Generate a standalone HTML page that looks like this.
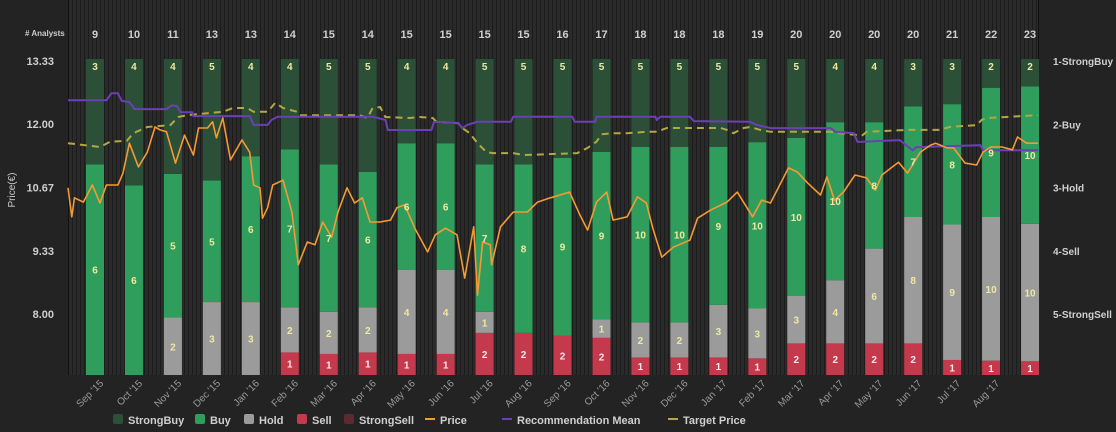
<!DOCTYPE html>
<html><head><meta charset="utf-8"><style>
html,body{margin:0;padding:0;background:#232323;}
svg{display:block;font-family:"Liberation Sans",sans-serif;}
</style></head><body>
<svg id="chart" width="1116" height="432" viewBox="0 0 1116 432" xmlns="http://www.w3.org/2000/svg">
<defs>
<pattern id="stripes" width="4" height="10" patternUnits="userSpaceOnUse">
<rect width="4" height="10" fill="#2a2a2a"/><rect width="1" height="10" fill="#1c1c1c"/>
</pattern>
</defs>
<rect x="0" y="0" width="1116" height="432" fill="#232323"/>
<rect x="68" y="0" width="970" height="375" fill="url(#stripes)"/>
<line x1="68.5" y1="0" x2="68.5" y2="375" stroke="#111"/>
<line x1="1038.5" y1="0" x2="1038.5" y2="375" stroke="#111"/>
<g id="bars"></g>
<g id="lines"></g>
<g id="labels"></g>
<text x="25" y="36" font-size="8" font-weight="bold" fill="#ccc"># Analysts</text>
<text transform="translate(15,190) rotate(-90)" text-anchor="middle" font-size="10" fill="#ccc">Price(€)</text>
<g id="legend"></g>
</svg>
<script>
const months = ["Sep '15","Oct '15","Nov '15","Dec '15","Jan '16","Feb '16","Mar '16","Apr '16","May '16","Jun '16","Jul '16","Aug '16","Sep '16","Oct '16","Nov '16","Dec '16","Jan '17","Feb '17","Mar '17","Apr '17","May '17","Jun '17","Jul '17","Aug '17",""];
const strongBuy = [3,4,4,5,4,4,5,5,4,4,5,5,5,5,5,5,5,5,5,4,4,3,3,2,2];
const buy       = [6,6,5,5,6,7,7,6,6,6,7,8,9,9,10,10,9,10,10,10,8,7,8,9,10];
const hold      = [0,0,2,3,3,2,2,2,4,4,1,0,0,1,2,2,3,3,3,4,6,8,9,10,10];
const sell      = [0,0,0,0,0,1,1,1,1,1,2,2,2,2,1,1,1,1,2,2,2,2,1,1,1];
const strongSell= [0,0,0,0,0,0,0,0,0,0,0,0,0,0,0,0,0,0,0,0,0,0,0,0,0];
const priceTicks = [13.33,12.00,10.67,9.33,8.00];
const recTicks = ["1-StrongBuy","2-Buy","3-Hold","4-Sell","5-StrongSell"];
const priceDays = [0,3,5,12,19,25,30,39,43,48,55,62,68,72,77,84,91,98,102,109,113,116,121,127,136,142,145,150,152,156,160,168,175,180,187,193,199,206,211,218,224,230,236,244,252,257,263,271,281,287,295,304,310,317,320,324,330,331,338,348,359,367,377,392,400,406,413,421,426,437,445,452,457,464,473,486,492,502,515,523,535,542,549,563,570,578,588,593,599,606,615,624,631,636,649,656,666,674,678,687,692,701,710,715,721,730,738,742,749,758];
const priceVals = [10.66,10.05,10.45,10.36,10.72,10.34,10.72,10.72,10.97,11.60,11.10,11.41,11.94,11.88,11.84,11.18,11.77,11.35,11.92,11.92,12.05,11.71,12.13,11.25,11.67,11.41,10.72,10.66,10.02,10.24,10.72,10.82,10.15,9.04,9.52,9.46,9.94,9.62,10.15,10.66,10.34,10.45,9.94,9.94,9.98,10.24,10.30,9.81,9.31,9.67,9.81,9.67,8.76,9.84,8.40,9.52,9.46,9.04,9.84,10.15,10.15,10.36,10.45,10.57,10.09,9.77,10.36,10.57,9.98,10.05,10.47,10.34,9.81,9.20,9.41,9.56,10.02,10.19,10.36,10.57,10.05,10.40,10.34,11.08,10.99,10.76,10.51,10.89,10.40,10.57,10.93,10.87,10.61,10.93,11.20,10.97,11.41,11.56,11.60,11.50,11.50,11.18,11.14,11.41,11.52,11.52,11.46,11.73,11.60,11.60];
const targetDays = [0,25,33,46,51,62,80,86,93,121,129,140,145,156,162,168,179,181,228,234,238,244,248,267,275,285,288,305,308,314,320,327,332,348,356,398,406,413,417,426,437,452,460,468,510,515,520,528,533,541,549,596,603,617,621,624,656,681,689,710,714,718,758];
const targetVals = [11.60,11.52,11.63,11.65,11.81,11.94,11.98,12.15,12.19,12.26,12.34,12.34,12.26,12.26,12.45,12.34,12.26,12.19,12.19,12.13,12.34,12.36,12.15,12.13,12.15,12.13,12.05,12.02,11.92,11.81,11.60,11.41,11.39,11.39,11.35,11.39,11.50,11.63,11.79,11.81,11.81,11.84,11.84,11.92,11.92,11.88,11.81,11.92,11.94,11.88,11.84,11.84,11.81,11.77,11.77,11.84,11.88,11.88,11.94,11.98,12.09,12.13,12.19];
const recDays = [0,30,34,39,42,48,52,77,81,85,88,97,98,142,145,156,159,164,238,248,250,284,286,305,308,312,320,346,348,394,396,412,413,459,460,463,486,489,533,538,549,596,600,614,617,650,660,663,713,715,758];
const recVals = [1.62,1.62,1.51,1.51,1.63,1.65,1.76,1.76,1.70,1.71,1.81,1.81,1.87,1.87,2.01,2.01,1.93,1.88,1.88,1.93,2.09,2.09,1.96,1.98,2.06,2.01,1.96,1.96,1.88,1.88,1.96,1.96,1.88,1.88,1.93,1.88,1.88,1.95,1.96,2.01,2.06,2.06,2.12,2.14,2.28,2.25,2.41,2.36,2.33,2.41,2.41];

const NS = "http://www.w3.org/2000/svg";
const xDay = d => 68 + d * (970 / 758);
const xBar = i => 95 + i * 38.96;
const yPrice = p => 61 + (13.33 - p) * 47.5;
const yRec = v => 61 + (v - 1) * 63.3;
const BAR_TOP = 59, BAR_BOT = 375, BW = 18;
function mk(tag, attrs, parent) {
  const el = document.createElementNS(NS, tag);
  for (const k in attrs) el.setAttribute(k, attrs[k]);
  parent.appendChild(el);
  return el;
}
const gB = document.getElementById('bars');
const gL = document.getElementById('lines');
const gT = document.getElementById('labels');
const series = [
  {vals: strongSell, color: '#5e2a30', tc: '#f0d0d0', name: 'strongsell'},
  {vals: sell, color: '#c4394b', tc: '#fbe8e8', name: 'sell'},
  {vals: hold, color: '#9b9b9b', tc: '#efe9a0', name: 'hold'},
  {vals: buy, color: '#2f9e5c', tc: '#efe9a0', name: 'buy'},
  {vals: strongBuy, color: '#2b4f37', tc: '#efe9a0', name: 'strongbuy'}
];
for (let i = 0; i < months.length; i++) {
  const total = series.reduce((s, o) => s + o.vals[i], 0);
  let acc = 0;
  const cx = xBar(i);
  for (const s of series) {
    const v = s.vals[i];
    if (!v) continue;
    const y0 = BAR_BOT - (acc / total) * (BAR_BOT - BAR_TOP);
    const y1 = BAR_BOT - ((acc + v) / total) * (BAR_BOT - BAR_TOP);
    const r = mk('rect', {x: cx - BW / 2, y: y1, width: BW, height: y0 - y1, fill: s.color}, gB);
    
    
    const ty = s.name === 'strongbuy' ? y1 + 11 : (y0 + y1) / 2 + 4;
    const t = mk('text', {x: cx, y: ty, 'text-anchor': 'middle', 'font-size': 10, 'font-weight': 'bold', fill: s.tc}, gT);
    t.textContent = v;
    
    
    acc += v;
  }
  const n = mk('text', {x: cx, y: 38, 'text-anchor': 'middle', 'font-size': 11, 'font-weight': 'bold', fill: '#cfcfcf'}, gT);
  n.textContent = total;
  
  
  if (months[i]) {
    const m = mk('text', {transform: `translate(${cx + 9},${384}) rotate(-45)`, 'text-anchor': 'end', 'font-size': 10, fill: '#9a9a9a'}, gT);
    m.textContent = months[i];
    
    
  }
}
function path(days, vals, yf) {
  return days.map((d, k) => (k ? 'L' : 'M') + xDay(d).toFixed(1) + ',' + yf(vals[k]).toFixed(1)).join(' ');
}
const pt = mk('path', {d: path(targetDays, targetVals, yPrice), fill: 'none', stroke: '#b3a843', 'stroke-width': 2, 'stroke-dasharray': '7,5'}, gL);


const pr = mk('path', {d: path(recDays, recVals, yRec), fill: 'none', stroke: '#6b3fb5', 'stroke-width': 2}, gL);


const pp = mk('path', {d: path(priceDays, priceVals, yPrice), fill: 'none', stroke: '#f39a35', 'stroke-width': 1.6, 'stroke-linejoin': 'round'}, gL);


priceTicks.forEach(p => {
  const t = mk('text', {x: 54, y: yPrice(p) + 4, 'text-anchor': 'end', 'font-size': 11, 'font-weight': 'bold', fill: '#cfcfcf'}, gT);
  t.textContent = p.toFixed(2);
  
  
});
recTicks.forEach((lab, k) => {
  const t = mk('text', {x: 1053, y: yRec(k + 1) + 4, 'font-size': 10, 'font-weight': 'bold', fill: '#cfcfcf'}, gT);
  t.textContent = lab;
  
  
});
const gLeg = document.getElementById('legend');
const legItems = [
  {label: 'StrongBuy', color: '#2b4f37', type: 'box', x: 113},
  {label: 'Buy', color: '#2f9e5c', type: 'box', x: 195},
  {label: 'Hold', color: '#9b9b9b', type: 'box', x: 244},
  {label: 'Sell', color: '#c4394b', type: 'box', x: 297},
  {label: 'StrongSell', color: '#5e2a30', type: 'box', x: 344},
  {label: 'Price', color: '#f39a35', type: 'line', x: 425},
  {label: 'Recommendation Mean', color: '#6b3fb5', type: 'line', x: 502},
  {label: 'Target Price', color: '#b3a843', type: 'line', x: 668}
];
legItems.forEach(it => {
  const g = mk('g', {}, gLeg);
  
  
  if (it.type === 'box') mk('rect', {x: it.x, y: 414, width: 10, height: 10, rx: 2, fill: it.color}, g);
  else mk('rect', {x: it.x, y: 418, width: 10, height: 2, fill: it.color}, g);
  const t = mk('text', {x: it.x + 15, y: 424, 'font-size': 11, 'font-weight': 'bold', fill: '#cfcfcf'}, g);
  t.textContent = it.label;
});
</script>
</body></html>
